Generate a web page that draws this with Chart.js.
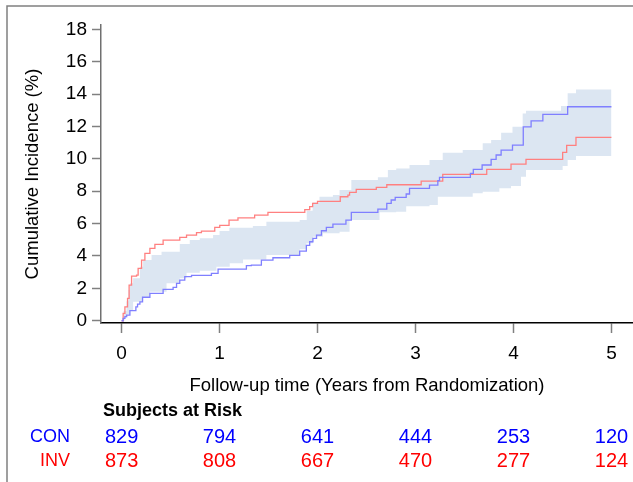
<!DOCTYPE html>
<html>
<head>
<meta charset="utf-8">
<script src="https://cdn.jsdelivr.net/npm/chart.js@4.4.0/dist/chart.umd.min.js"></script>
<style>
  html, body { margin: 0; padding: 0; background: #fff; }
  #wrap { width: 633px; height: 482px; position: relative; }
</style>
</head>
<body>
<div id="wrap"><canvas id="chart"></canvas></div>
<script>
// Cumulative incidence (%) – step points: time of jump (years) and new value
const conTime = [0, 0.016, 0.034, 0.051, 0.085, 0.146, 0.163, 0.187, 0.214, 0.289, 0.424, 0.526, 0.561, 0.594, 0.645, 0.714, 0.917, 0.985, 1.274, 1.325, 1.427, 1.545, 1.716, 1.818, 1.886, 1.92, 1.953, 1.99, 2.04, 2.09, 2.157, 2.29, 2.345, 2.616, 2.707, 2.752, 2.793, 2.905, 2.939, 3.143, 3.228, 3.245, 3.56, 3.59, 3.68, 3.772, 3.823, 3.874, 3.99, 4.10, 4.18, 4.30, 4.553, 5.0];
const conPct  = [0, 0.15, 0.25, 0.35, 0.62, 0.86, 1.03, 1.17, 1.45, 1.69, 1.94, 2.06, 2.31, 2.51, 2.72, 2.80, 2.93, 3.19, 3.40, 3.44, 3.75, 3.89, 4.04, 4.30, 4.65, 4.88, 5.09, 5.29, 5.56, 5.77, 5.97, 6.22, 6.70, 6.90, 7.25, 7.46, 7.62, 7.83, 8.18, 8.38, 8.65, 8.86, 9.10, 9.35, 9.62, 9.97, 10.24, 10.54, 10.85, 11.98, 12.35, 12.75, 13.22, 13.22];

const invTime = [0, 0.016, 0.034, 0.061, 0.077, 0.102, 0.153, 0.169, 0.204, 0.238, 0.289, 0.34, 0.424, 0.594, 0.663, 0.765, 0.815, 0.951, 1.002, 1.097, 1.188, 1.358, 1.494, 1.87, 1.92, 1.95, 2.0, 2.232, 2.31, 2.327, 2.395, 2.6, 2.707, 3.058, 3.278, 3.727, 3.975, 4.128, 4.502, 4.543, 4.638, 5.0];
const invPct  = [0, 0.46, 0.86, 1.38, 2.2, 2.76, 2.82, 3.24, 3.75, 4.16, 4.47, 4.72, 4.98, 5.15, 5.29, 5.44, 5.54, 5.77, 5.89, 6.22, 6.36, 6.53, 6.70, 6.86, 7.05, 7.25, 7.37, 7.66, 7.76, 7.93, 8.12, 8.24, 8.40, 8.63, 9.04, 9.35, 9.68, 9.97, 10.40, 10.83, 11.33, 11.33];

// confidence band
const upperTime = [0, 0.02, 0.05, 0.07, 0.085, 0.118, 0.187, 0.22, 0.306, 0.408, 0.594, 0.696, 0.798, 0.934, 1.0, 1.10, 1.34, 1.478, 1.818, 1.89, 1.95, 2.02, 2.157, 2.225, 2.345, 2.616, 2.718, 2.803, 2.939, 3.143, 3.278, 3.482, 3.686, 3.772, 3.874, 3.99, 4.094, 4.128, 4.485, 4.553, 4.638, 5.0];
const upperPct  = [0, 0.6, 1.2, 1.9, 2.31, 2.62, 3.34, 3.75, 4.06, 4.26, 4.74, 4.98, 5.09, 5.29, 5.54, 5.74, 5.85, 6.12, 6.22, 6.8, 7.3, 7.66, 7.76, 8.07, 8.69, 8.86, 9.31, 9.41, 9.62, 9.93, 10.38, 10.54, 10.96, 11.16, 11.61, 11.98, 12.81, 12.97, 13.26, 14.05, 14.29, 14.29];

const lowerTime = [0, 0.03, 0.06, 0.085, 0.118, 0.22, 0.289, 0.459, 0.594, 0.663, 0.798, 0.968, 1.104, 1.24, 1.478, 1.818, 1.886, 1.953, 2.055, 2.225, 2.327, 2.633, 2.803, 2.905, 3.143, 3.228, 3.584, 3.686, 3.856, 3.975, 4.077, 4.128, 4.502, 4.553, 4.638, 5.0];
const lowerPct  = [0, 0.2, 0.4, 0.66, 1.17, 1.48, 1.79, 2.31, 2.62, 2.96, 3.09, 3.34, 3.55, 3.79, 4.06, 4.41, 4.78, 5.19, 5.40, 5.50, 6.22, 6.70, 6.73, 7.08, 7.15, 7.66, 7.87, 7.97, 8.18, 8.32, 8.89, 9.31, 9.56, 9.93, 10.17, 10.17];

// subjects at risk
const riskYears = [0, 1, 2, 3, 4, 5];
const riskCon = [829, 794, 641, 444, 253, 120];
const riskInv = [873, 808, 667, 470, 277, 124];

const xTicks = [0, 1, 2, 3, 4, 5];
const yTicks = [0, 2, 4, 6, 8, 10, 12, 14, 16, 18];

const FONT = "'Liberation Sans', Arial, sans-serif";

function zip(xs, ys) {
  return xs.map((x, i) => ({ x, y: ys[i] }));
}

// frame lines and the at-risk table below the plot
const extras = {
  id: 'extras',
  afterDraw(chart) {
    const { ctx } = chart;
    const x = chart.scales.x;
    ctx.save();
    ctx.strokeStyle = '#808080';
    ctx.lineWidth = 1.5;
    ctx.beginPath();
    ctx.moveTo(7, 482);
    ctx.lineTo(7, 6);
    ctx.lineTo(633, 6);
    ctx.stroke();

    ctx.textBaseline = 'middle';
    ctx.fillStyle = '#000';
    ctx.font = 'bold 18px ' + FONT;
    ctx.textAlign = 'left';
    ctx.fillText('Subjects at Risk', 103, 411);

    ctx.font = '18px ' + FONT;
    ctx.textAlign = 'right';
    ctx.fillStyle = '#0000ff';
    ctx.fillText('CON', 70, 437);
    ctx.fillStyle = '#ff0000';
    ctx.fillText('INV', 70, 461);

    ctx.font = '20px ' + FONT;
    ctx.textAlign = 'center';
    riskYears.forEach((yr, i) => {
      const px = x.getPixelForValue(yr);
      ctx.fillStyle = '#0000ff';
      ctx.fillText(String(riskCon[i]), px, 437);
      ctx.fillStyle = '#ff0000';
      ctx.fillText(String(riskInv[i]), px, 461);
    });
    ctx.restore();
  }
};

new Chart(document.getElementById('chart'), {
  type: 'line',
  data: {
    datasets: [
      {
        label: 'CON',
        data: zip(conTime, conPct),
        borderColor: '#7f7fff',
        borderWidth: 1.3,
        stepped: true,
        pointRadius: 0,
        fill: false,
        order: 1
      },
      {
        label: 'INV',
        data: zip(invTime, invPct),
        borderColor: '#ff8080',
        borderWidth: 1.3,
        stepped: true,
        pointRadius: 0,
        fill: false,
        order: 2
      },
      {
        label: 'upper',
        data: zip(upperTime, upperPct),
        borderColor: 'rgba(0,0,0,0)',
        borderWidth: 0,
        backgroundColor: '#dce6f2',
        stepped: true,
        pointRadius: 0,
        fill: '+1',
        order: 3
      },
      {
        label: 'lower',
        data: zip(lowerTime, lowerPct),
        borderColor: 'rgba(0,0,0,0)',
        borderWidth: 0,
        stepped: true,
        pointRadius: 0,
        fill: false,
        order: 4
      }
    ]
  },
  options: {
    responsive: true,
    maintainAspectRatio: false,
    animation: false,
    devicePixelRatio: 1,
    layout: { padding: { top: 25, left: 0, right: 0, bottom: 0 } },
    plugins: {
      legend: { display: false },
      tooltip: { enabled: false }
    },
    scales: {
      x: {
        type: 'linear',
        min: -0.21,
        max: 5.22,
        afterFit: s => { s.height = 159; },
        afterBuildTicks: s => { s.ticks = xTicks.map(v => ({ value: v })); },
        ticks: { color: '#000', font: { family: FONT, size: 19 }, padding: 9, maxRotation: 0 },
        grid: { drawOnChartArea: false, drawTicks: true, tickLength: 10, color: '#808080', tickWidth: 1.5 },
        border: { color: '#000', width: 1.5 },
        title: {
          display: true,
          text: 'Follow-up time (Years from Randomization)',
          color: '#000',
          font: { family: FONT, size: 18.5 },
          padding: { top: 0, bottom: 85 }
        }
      },
      y: {
        type: 'linear',
        min: -0.14,
        max: 18.27,
        afterFit: s => { s.width = 101; },
        afterBuildTicks: s => { s.ticks = yTicks.map(v => ({ value: v })); },
        ticks: { color: '#000', font: { family: FONT, size: 19 }, padding: 5 },
        grid: { drawOnChartArea: false, drawTicks: true, tickLength: 9, color: '#808080', tickWidth: 1.5 },
        border: { color: '#707070', width: 1.5 },
        title: {
          display: true,
          text: 'Cumulative Incidence (%)',
          color: '#000',
          font: { family: FONT, size: 18.5 },
          padding: { top: 22, bottom: 0 }
        }
      }
    }
  },
  plugins: [extras]
});
</script>
</body>
</html>
